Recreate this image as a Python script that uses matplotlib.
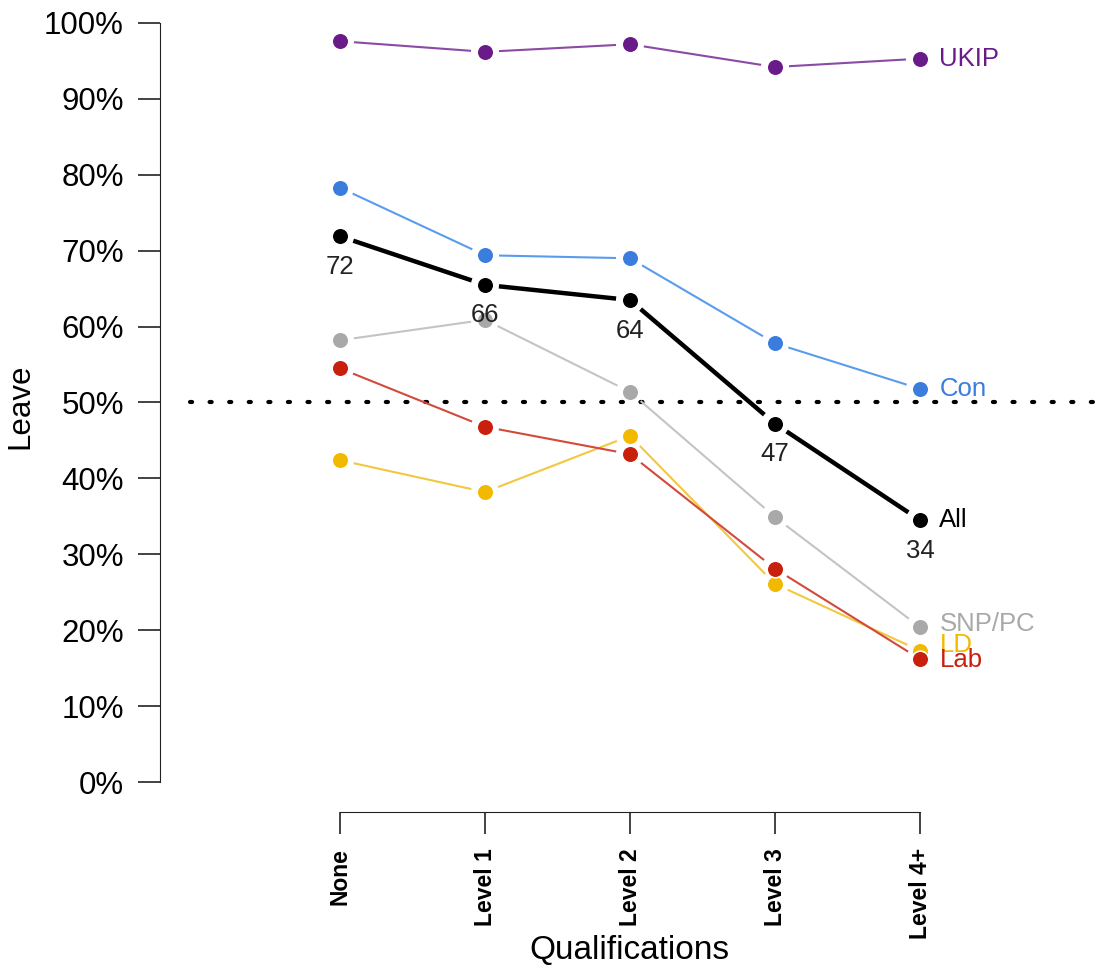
import matplotlib.pyplot as plt
import numpy as np

plt.rcParams['font.family'] = ['Liberation Sans', 'DejaVu Sans']

# Data
quals = ['None', 'Level 1', 'Level 2', 'Level 3', 'Level 4+']
parties = ['UKIP', 'Con', 'SNP/PC', 'LD', 'Lab', 'All']
ukip = [97.6, 96.2, 97.2, 94.2, 95.3]
con = [78.3, 69.4, 69.0, 57.8, 51.8]
snp = [58.2, 60.9, 51.4, 34.9, 20.4]
ld = [42.4, 38.2, 45.6, 26.1, 17.3]
lab = [54.5, 46.8, 43.2, 28.1, 16.2]
all_ = [71.9, 65.5, 63.5, 47.2, 34.5]
all_labels = ['72', '66', '64', '47', '34']

series = [ukip, con, snp, ld, lab, all_]
point_cols = ['#6a1b8a', '#3b7ddd', '#a9a9a9', '#f2b900', '#c8200c', '#000000']
line_cols = ['#8a4aa6', '#5a9cec', '#c4c4c4', '#f2c840', '#d24a3a', '#000000']
line_w = [1.5, 1.5, 1.5, 1.5, 1.5, 3.2]
# label vertical offsets in points
lab_dy = [0, 0, 2, 4, -1, 0]

fig = plt.figure(figsize=(10.99, 9.71), dpi=100)
# axes spans x: 160..1099 px, y: 0..812 px (from top)
ax = fig.add_axes([160 / 1099, (971 - 812) / 971, 939 / 1099, 812 / 971])
x = np.arange(1, 6)
ax.set_xlim(1 - 180 / 145, 5 + 179 / 145)
ax.set_ylim(-30 / 7.59, 100 + 23 / 7.59)

fig.canvas.draw()
trans = ax.transData
gap = 14  # px gap around points, like R type="b"

for vals, pc, lc, lw, name, dy in zip(series, point_cols, line_cols, line_w, parties, lab_dy):
    pts = trans.transform(np.column_stack([x, vals]))
    for i in range(len(pts) - 1):
        p0, p1 = pts[i], pts[i + 1]
        d = p1 - p0
        u = d / np.hypot(*d)
        a = trans.inverted().transform(p0 + u * gap)
        b = trans.inverted().transform(p1 - u * gap)
        ax.plot([a[0], b[0]], [a[1], b[1]], color=lc, lw=lw, solid_capstyle='butt', zorder=2)
    ax.plot(x, vals, 'o', color=pc, markersize=12, markeredgecolor='white',
            markeredgewidth=1.2, zorder=3)
    ax.annotate(name, (x[-1], vals[-1]), xytext=(14, dy), textcoords='offset points',
                ha='left', va='center', fontsize=18.5, color=pc, zorder=4)

for xi, v, t in zip(x, all_, all_labels):
    ax.annotate(t, (xi, v), xytext=(0, -22), textcoords='offset points',
                ha='center', va='center', fontsize=18.5, color='#222222', zorder=4)

ax.plot([1 - 150 / 145, 5 + 179 / 145], [50, 50], color='black', lw=3,
        linestyle=(0, (0.5, 4.2)), dash_capstyle='round', zorder=1)

ax.spines['top'].set_visible(False)
ax.spines['right'].set_visible(False)
ax.spines['left'].set_bounds(0, 100)
ax.spines['bottom'].set_bounds(1, 5)
ax.spines['left'].set_color('#222222')
ax.spines['bottom'].set_color('#222222')

yt = np.arange(0, 101, 10)
ax.set_yticks(yt)
ax.set_yticklabels([f'{v}%' for v in yt], fontsize=22.5)
ax.tick_params(axis='y', length=16, width=1.2, pad=10, color='#222222')
ax.set_xticks(x)
ax.set_xticklabels(quals, rotation=90, fontsize=16.5, fontweight='bold', va='top')
ax.tick_params(axis='x', length=16, width=1.2, pad=10, color='#222222')

ax.set_ylabel('Leave', fontsize=22.5)
ax.yaxis.set_label_coords(-0.133, 0.5)
ax.set_xlabel('Qualifications', fontsize=24, labelpad=-3)

fig.savefig('out.png', dpi=100)
